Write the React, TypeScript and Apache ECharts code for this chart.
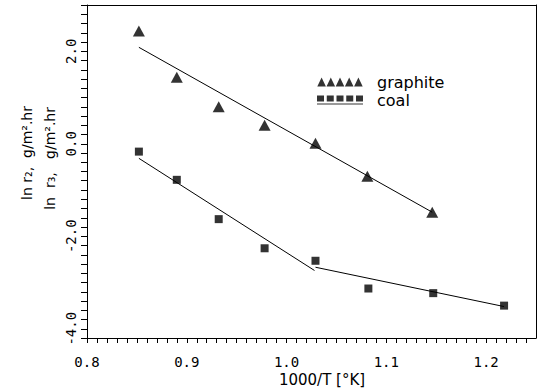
import React, { useEffect, useRef } from "react";
import * as echarts from "echarts";

// 1000/T values (1/K) and ln rate values
const graphiteX = [0.852, 0.89, 0.932, 0.978, 1.029, 1.081, 1.146];
const graphiteY = [2.44, 1.44, 0.8, 0.4, 0.01, -0.7, -1.48];
const coalX = [0.852, 0.89, 0.932, 0.978, 1.029, 1.082, 1.147, 1.218];
const coalY = [-0.17, -0.78, -1.63, -2.26, -2.53, -3.13, -3.23, -3.5];

// fitted lines
const graphiteFitX = [0.852, 1.146];
const graphiteFitY = [2.085, -1.48];
const coalFitLowX = [0.852, 1.028];
const coalFitLowY = [-0.315, -2.74];
const coalFitHighX = [1.029, 1.218];
const coalFitHighY = [-2.67, -3.52];

// axis ranges, labels and tick spacing
const xMin = 0.8;
const xMax = 1.25;
const xStep = 0.01;
const yMin = -4.2;
const yMax = 3.0;
const yStep = 0.2;
const xLabels = [0.8, 0.9, 1.0, 1.1, 1.2];
const yLabels = [-4.0, -2.0, 0.0, 2.0];

const yTitle1 = "ln r\u2082,  g/m\u00b2.hr";
const yTitle2 = "ln  r\u2083,   g/m\u00b2.hr";
const xTitle = "1000/T [\u00b0K]";

const zip = (xs: number[], ys: number[]) => xs.map((x, i) => [x, ys[i]]);

function triangleRow(): string {
  let d = "";
  for (let i = 0; i < 5; i++) {
    const x0 = i * 9.2;
    d += `M${(x0 + 0.3).toFixed(2)},9 L${(x0 + 4.6).toFixed(2)},0 L${(x0 + 8.9).toFixed(2)},9 Z `;
  }
  return "path://" + d.trim();
}

function squareRow(): string {
  let d = "";
  for (let i = 0; i < 5; i++) {
    const x0 = i * 9.75;
    d += `M${x0.toFixed(2)},0 h7 v6 h-7 Z `;
  }
  d += "M0,8 h46 v1 h-46 Z";
  return "path://" + d;
}

const tickFont = "'DejaVu Sans Mono', monospace";
const textFont = "'DejaVu Sans', sans-serif";
const black = "#000";
const clear = "rgba(0,0,0,0)";

// plain frame axis for the top and right edges of the plot box
const frameAxis = {
  type: "value",
  axisLine: { show: true, onZero: false, lineStyle: { color: black, width: 1 } },
  axisTick: { show: false },
  axisLabel: { show: false },
  splitLine: { show: false },
};

export default function App() {
  const ref = useRef<HTMLDivElement>(null);

  useEffect(() => {
    if (!ref.current) return;
    const chart = echarts.init(ref.current, undefined, { renderer: "svg" });
    chart.setOption({
      animation: false,
      backgroundColor: "#fff",
      grid: { left: 87, right: 4, top: 5, bottom: 51 },
      legend: {
        orient: "vertical",
        left: 312,
        top: 69,
        itemWidth: 46,
        itemHeight: 9,
        itemGap: 2,
        textStyle: {
          fontSize: 16,
          color: black,
          fontFamily: textFont,
          padding: [0, 0, 0, 9],
        },
        data: [
          { name: "graphite", icon: triangleRow() },
          { name: "coal", icon: squareRow() },
        ],
        selectedMode: false,
      },
      xAxis: [
        {
          type: "value",
          position: "bottom",
          min: xMin,
          max: xMax,
          interval: xStep,
          axisLine: { show: true, onZero: false, lineStyle: { color: black, width: 1 } },
          axisTick: { show: true, inside: false, length: 5, lineStyle: { color: black, width: 1 } },
          splitLine: { show: true, lineStyle: { color: clear, width: 0 } },
          axisLabel: {
            margin: 17,
            color: black,
            fontSize: 14,
            fontFamily: tickFont,
            showMinLabel: true,
            showMaxLabel: false,
            formatter: (v: number) => {
              const r = Math.round(v * 100) / 100;
              return xLabels.some((l) => Math.abs(l - r) < 1e-6) ? r.toFixed(1) : "";
            },
          },
        },
        { ...frameAxis, position: "top", min: xMin, max: xMax },
      ],
      yAxis: [
        {
          type: "value",
          position: "left",
          min: yMin,
          max: yMax,
          interval: yStep,
          axisLine: { show: true, onZero: false, lineStyle: { color: black, width: 1 } },
          axisTick: { show: true, inside: false, length: 6, lineStyle: { color: black, width: 1 } },
          splitLine: { show: true, lineStyle: { color: clear, width: 0 } },
          axisLabel: {
            rotate: 90,
            margin: 9,
            color: black,
            fontSize: 14,
            fontFamily: tickFont,
            formatter: (v: number) => {
              const r = Math.round(v * 10) / 10;
              return yLabels.some((l) => Math.abs(l - r) < 1e-6) ? (r === 0 ? 0 : r).toFixed(1) : "";
            },
          },
        },
        { ...frameAxis, position: "right", min: yMin, max: yMax },
      ],
      graphic: [
        {
          type: "text",
          x: 27,
          y: 106,
          rotation: Math.PI / 2,
          style: {
            text: yTitle1,
            fill: black,
            font: `14px ${textFont}`,
            align: "right",
            verticalAlign: "middle",
          },
        },
        {
          type: "text",
          x: 50,
          y: 107,
          rotation: Math.PI / 2,
          style: {
            text: yTitle2,
            fill: black,
            font: `14px ${textFont}`,
            align: "right",
            verticalAlign: "middle",
          },
        },
        {
          type: "text",
          x: 322,
          y: 380,
          style: {
            text: xTitle,
            fill: black,
            font: `15px ${textFont}`,
            align: "center",
            verticalAlign: "middle",
          },
        },
      ],
      series: [
        {
          name: "graphite",
          type: "scatter",
          data: zip(graphiteX, graphiteY),
          symbol: "triangle",
          symbolSize: [12, 11],
          itemStyle: { color: black },
        },
        {
          name: "coal",
          type: "scatter",
          data: zip(coalX, coalY),
          symbol: "rect",
          symbolSize: 8,
          itemStyle: { color: black },
        },
        {
          name: "graphite fit",
          type: "line",
          data: zip(graphiteFitX, graphiteFitY),
          symbol: "none",
          lineStyle: { color: black, width: 1 },
        },
        {
          name: "coal fit (high T)",
          type: "line",
          data: zip(coalFitLowX, coalFitLowY),
          symbol: "none",
          lineStyle: { color: black, width: 1 },
        },
        {
          name: "coal fit (low T)",
          type: "line",
          data: zip(coalFitHighX, coalFitHighY),
          symbol: "none",
          lineStyle: { color: black, width: 1 },
        },
      ],
    });
    return () => chart.dispose();
  }, []);

  return <div ref={ref} style={{ width: 540, height: 389, position: "absolute", left: 0, top: 0 }} />;
}
